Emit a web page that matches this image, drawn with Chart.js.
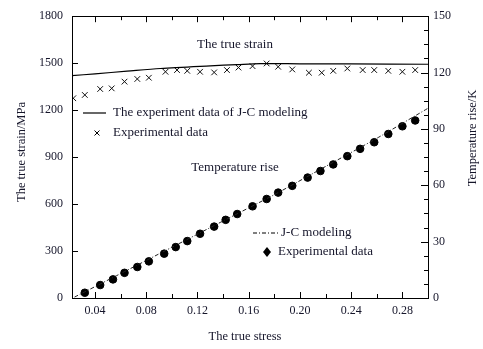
<!DOCTYPE html>
<html>
<head>
<meta charset="utf-8">
<script src="https://cdn.jsdelivr.net/npm/chart.js@4/dist/chart.umd.min.js"></script>
<style>
  html, body { margin: 0; padding: 0; background: #fff; }
  #wrap { width: 483px; height: 349px; }
</style>
</head>
<body>
<div id="wrap"><canvas id="myChart" width="483" height="349"></canvas></div>
<script>
// true strain (left axis, MPa)
const strainModelX = [0.022, 0.040, 0.065, 0.091, 0.130, 0.151, 0.169, 0.200, 0.240, 0.300];
const strainModelY = [1420, 1432, 1449, 1466, 1483, 1491, 1497, 1496, 1495, 1493];
const strainExpX = [0.023, 0.032, 0.044, 0.053, 0.063, 0.073, 0.082, 0.095, 0.104, 0.112, 0.122, 0.133, 0.143, 0.152,
  0.163, 0.174, 0.183, 0.194, 0.207, 0.217, 0.226, 0.237, 0.249, 0.258, 0.269, 0.280, 0.290];
const strainExpY = [1276, 1297, 1335, 1339, 1382, 1399, 1407, 1445, 1456, 1451, 1445, 1441, 1456, 1472,
  1481, 1498, 1477, 1460, 1439, 1439, 1451, 1466, 1456, 1456, 1451, 1445, 1456];

// temperature rise (right axis, K)
const tempModelX = [0.024, 0.06, 0.10, 0.14, 0.18, 0.22, 0.26, 0.30];
const tempModelY = [0.5, 13, 27, 41, 55, 70, 85, 101];
const tempExpX = [0.032, 0.044, 0.054, 0.063, 0.073, 0.082, 0.094, 0.103, 0.112, 0.122, 0.133, 0.142, 0.151,
  0.163, 0.174, 0.183, 0.194, 0.206, 0.216, 0.226, 0.237, 0.247, 0.258, 0.269, 0.280, 0.290];
const tempExpY = [2.8, 6.9, 9.9, 13.4, 16.5, 19.5, 23.6, 27.1, 30.3, 34.2, 38.0, 41.6, 44.7,
  48.8, 52.7, 56.1, 59.7, 64.1, 67.6, 71.1, 75.5, 79.4, 82.9, 87.3, 91.4, 94.5];

const xTicks = [0.04, 0.08, 0.12, 0.16, 0.20, 0.24, 0.28];
const yTicks = [0, 300, 600, 900, 1200, 1500, 1800];
const y1Ticks = [0, 30, 60, 90, 120, 150];

function pts(xs, ys) {
  return xs.map(function (x, i) { return { x: x, y: ys[i] }; });
}

const INK = '#15152a';
const FONT = '"Liberation Serif", "Times New Roman", serif';

// frame, inward ticks and the text notes
const decor = {
  id: 'decor',
  afterDraw: function (chart) {
    const c = chart.ctx;
    const a = chart.chartArea;
    const sx = chart.scales.x, sy = chart.scales.y, sy1 = chart.scales.y1;
    c.save();
    c.strokeStyle = '#000';
    c.lineWidth = 1;
    c.strokeRect(Math.round(a.left) + 0.5, Math.round(a.top) + 0.5, Math.round(a.right - a.left), Math.round(a.bottom - a.top));

    c.beginPath();
    // x ticks, bottom and top
    for (let v = 0.04; v <= 0.2801; v += 0.02) {
      const px = Math.round(sx.getPixelForValue(v)) + 0.5;
      const major = Math.abs((v / 0.04) - Math.round(v / 0.04)) < 0.01;
      const len = major ? 6 : 4;
      c.moveTo(px, a.bottom); c.lineTo(px, a.bottom - len);
      c.moveTo(px, a.top); c.lineTo(px, a.top + len);
    }
    // left ticks
    yTicks.forEach(function (v) {
      const py = Math.round(sy.getPixelForValue(v)) + 0.5;
      c.moveTo(a.left, py); c.lineTo(a.left + 6, py);
    });
    // right ticks
    for (let v = 0; v <= 150.01; v += 7.5) {
      const py = Math.round(sy1.getPixelForValue(v)) + 0.5;
      const len = (v % 30 === 0) ? 7 : 4;
      c.moveTo(a.right, py); c.lineTo(a.right - len, py);
    }
    c.stroke();

    // legend samples
    c.beginPath();
    c.lineWidth = 1.2;
    c.moveTo(83, 113); c.lineTo(106, 113);
    c.stroke();
    c.lineWidth = 1;
    c.beginPath();
    c.moveTo(94.5, 130.5); c.lineTo(99.5, 135.5);
    c.moveTo(99.5, 130.5); c.lineTo(94.5, 135.5);
    c.stroke();
    c.setLineDash([4, 2, 1, 2]);
    c.beginPath();
    c.moveTo(253, 233); c.lineTo(279, 233);
    c.stroke();
    c.setLineDash([]);
    c.fillStyle = '#000';
    c.beginPath();
    c.moveTo(267, 247); c.lineTo(271, 252); c.lineTo(267, 257); c.lineTo(263, 252);
    c.closePath();
    c.fill();

    // texts
    c.fillStyle = INK;
    c.font = '13px ' + FONT;
    c.textBaseline = 'middle';
    c.textAlign = 'center';
    c.fillText('The true strain', 235, 45);
    c.fillText('Temperature rise', 235, 168);
    c.textAlign = 'left';
    c.fillText('The experiment data of J-C modeling', 113, 113);
    c.fillText('Experimental data', 113, 133);
    c.fillText('J-C modeling', 281, 233);
    c.fillText('Experimental data', 278, 252);

    // axis titles
    c.font = '12.5px ' + FONT;
    c.textAlign = 'center';
    c.fillText('The true stress', 245, 337);
    c.save();
    c.translate(22, 152);
    c.rotate(-Math.PI / 2);
    c.fillText('The true strain/MPa', 0, 0);
    c.restore();
    c.save();
    c.translate(473, 138);
    c.rotate(-Math.PI / 2);
    c.fillText('Temperature rise/K', 0, 0);
    c.restore();
    c.restore();
  }
};

const ctx = document.getElementById('myChart');
new Chart(ctx.getContext('2d'), {
  type: 'scatter',
  data: {
    datasets: [{
      label: 'The experiment data of J-C modeling',
      data: pts(strainModelX, strainModelY),
      yAxisID: 'y',
      showLine: true,
      borderColor: '#000',
      borderWidth: 1.2,
      pointRadius: 0,
      tension: 0.3
    }, {
      label: 'Experimental data',
      data: pts(strainExpX, strainExpY),
      yAxisID: 'y',
      pointStyle: 'crossRot',
      pointRadius: 4,
      borderColor: '#111',
      borderWidth: 1
    }, {
      label: 'J-C modeling',
      data: pts(tempModelX, tempModelY),
      yAxisID: 'y1',
      showLine: true,
      borderColor: '#222',
      borderWidth: 1,
      borderDash: [4, 2, 1, 2],
      pointRadius: 0,
      tension: 0.2
    }, {
      label: 'Experimental data',
      data: pts(tempExpX, tempExpY),
      yAxisID: 'y1',
      pointStyle: 'circle',
      pointRadius: 3.8,
      backgroundColor: '#000',
      borderColor: '#000',
      borderWidth: 1
    }]
  },
  options: {
    responsive: false,
    animation: false,
    layout: { padding: { top: 14, left: 0, right: 0, bottom: 0 } },
    plugins: { legend: { display: false }, tooltip: { enabled: false } },
    scales: {
      x: {
        type: 'linear',
        min: 0.022,
        max: 0.300,
        afterBuildTicks: function (s) { s.ticks = xTicks.map(function (v) { return { value: v }; }); },
        afterFit: function (s) { s.height = 51; },
        grid: { display: false, drawTicks: false },
        border: { display: false },
        ticks: {
          padding: 6,
          color: INK,
          font: { family: FONT, size: 12 },
          callback: function (v) { return Number(v).toFixed(2); }
        }
      },
      y: {
        position: 'left',
        min: 0,
        max: 1800,
        afterBuildTicks: function (s) { s.ticks = yTicks.map(function (v) { return { value: v }; }); },
        afterFit: function (s) { s.width = 72; },
        grid: { display: false, drawTicks: false },
        border: { display: false },
        ticks: { padding: 9, color: INK, font: { family: FONT, size: 12 }, callback: function (v) { return String(v); } }
      },
      y1: {
        position: 'right',
        min: 0,
        max: 150,
        afterBuildTicks: function (s) { s.ticks = y1Ticks.map(function (v) { return { value: v }; }); },
        afterFit: function (s) { s.width = 55; },
        grid: { display: false, drawTicks: false },
        border: { display: false },
        ticks: { padding: 5, color: INK, font: { family: FONT, size: 12 }, callback: function (v) { return String(v); } }
      }
    }
  },
  plugins: [decor]
});
</script>
</body>
</html>
